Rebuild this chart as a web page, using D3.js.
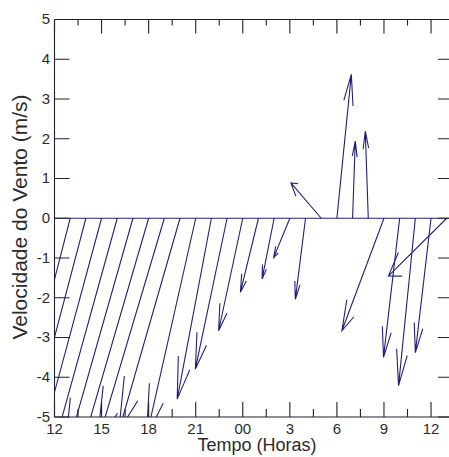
<!DOCTYPE html>
<html>
<head>
<meta charset="utf-8">
<style>
  body { margin: 0; background: #fff; }
  svg { font-family: "Liberation Sans", Arial, sans-serif; }
</style>
</head>
<body>
<div id="chart"></div>
<script src="https://d3js.org/d3.v7.min.js"></script>
<script>
// hour index from 12h (0) to 13h next day (25)
const hourIdx = [0, 1, 2, 3, 4, 5, 6, 7, 8, 9, 10, 11, 12,
                 13, 14, 15, 16, 17, 18, 19, 20, 21, 22, 23, 24, 25];
// wind components (u along time axis, v in m/s)
const uComp = [-4.5, -4.55, -4.68, -4.8, -4.92, -4.38, -5.17, -4.3, -3.9, -3.14,
               -2.18, -2.02, -1.54, -1.15, -0.77, -1.03, -0.65, -1.93, 0.92, 0.17,
               -0.19, -2.68, -1.03, -1.07, -1.0, -3.71];
const vComp = [-7.0, -7.0, -7.0, -7.0, -7.0, -6.08, -7.0, -5.7, -5.35, -5.5,
               -4.55, -3.79, -2.83, -1.86, -1.53, -0.99, -2.04, 0.89, 3.62, 1.94,
               2.19, -2.83, -3.5, -4.21, -3.38, -1.45];

const xMajor = [0, 3, 6, 9, 12, 15, 18, 21, 24];
const xMinor = [1.5, 4.5, 7.5, 10.5, 13.5, 16.5, 19.5, 22.5];
const xLabels = ["12", "15", "18", "21", "00", "3", "6", "9", "12"];
const yTicks = [-5, -4, -3, -2, -1, 0, 1, 2, 3, 4, 5];

const W = 449, H = 457;
const mLeft = 54.5, mRight = 453, mTop = 19.5, mBottom = 417;

const svg = d3.select("#chart").append("svg")
  .attr("width", W).attr("height", H);

const x = d3.scaleLinear().domain([0, 25.4]).range([mLeft, mRight]);
const y = d3.scaleLinear().domain([-5, 5]).range([mBottom, mTop]);

const defs = svg.append("defs");
defs.append("clipPath").attr("id", "plotclip")
  .append("rect")
  .attr("x", mLeft).attr("y", mTop)
  .attr("width", mRight - mLeft).attr("height", mBottom - mTop);
defs.append("clipPath").attr("id", "frameclip")
  .append("rect")
  .attr("x", mLeft - 3).attr("y", mTop - 3)
  .attr("width", mRight - mLeft + 6).attr("height", mBottom - mTop + 6);

const ink = "#1f1f78";
const frameInk = "#1f1f30";
const textInk = "#2b2b2b";

const plot = svg.append("g").attr("clip-path", "url(#plotclip)");

// zero line
plot.append("line")
  .attr("x1", x(0)).attr("x2", x(25.4))
  .attr("y1", y(0)).attr("y2", y(0))
  .attr("stroke", ink).attr("stroke-width", 1.1);

// feather arrows (matlab style head: 0.8 back, 0.08 sideways)
const arrowLine = d3.line().x(d => x(d[0])).y(d => y(d[1]));
hourIdx.forEach((h, i) => {
  const u = uComp[i], v = vComp[i];
  const tip = [h + u, v];
  const b1 = [h + 0.8 * u - 0.08 * v, 0.8 * v + 0.08 * u];
  const b2 = [h + 0.8 * u + 0.08 * v, 0.8 * v - 0.08 * u];
  plot.append("path")
    .attr("d", arrowLine([[h, 0], tip, b1, tip, b2]))
    .attr("fill", "none")
    .attr("stroke", ink)
    .attr("stroke-width", 1.1);
});

// frame and ticks, built from the scales as [x1, y1, x2, y2] segments
const segs = [
  [mRight, mTop, mLeft, mTop],
  [mLeft, mTop, mLeft, mBottom],
  [mLeft, mBottom, mRight, mBottom]
];
xMajor.forEach(t => {
  segs.push([x(t), mBottom, x(t), mBottom - 15]);
  segs.push([x(t), mTop, x(t), mTop + 14]);
});
xMinor.forEach(t => {
  segs.push([x(t), mBottom, x(t), mBottom - 8]);
  segs.push([x(t), mTop, x(t), mTop + 6]);
});
yTicks.forEach(t => {
  segs.push([mLeft, y(t), mLeft + 15, y(t)]);
  segs.push([mRight, y(t), mRight - 15, y(t)]);
});

const frame = svg.append("g").attr("clip-path", "url(#frameclip)");
frame.selectAll("path")
  .data(segs)
  .join("path")
  .attr("d", d => `M${d[0]},${d[1]}L${d[2]},${d[3]}`)
  .attr("fill", "none")
  .attr("stroke", frameInk)
  .attr("stroke-width", 1.1);

// tick labels
svg.append("g").selectAll("text")
  .data(xMajor)
  .join("text")
  .attr("x", d => x(d))
  .attr("y", 434)
  .attr("text-anchor", "middle")
  .attr("font-size", 15)
  .attr("fill", textInk)
  .text((d, i) => xLabels[i]);

svg.append("g").selectAll("text")
  .data(yTicks)
  .join("text")
  .attr("x", 50)
  .attr("y", d => y(d))
  .attr("dy", "0.33em")
  .attr("text-anchor", "end")
  .attr("font-size", 15)
  .attr("fill", textInk)
  .text(d => d);

// axis titles
svg.append("text")
  .attr("x", 257).attr("y", 451)
  .attr("text-anchor", "middle")
  .attr("font-size", 18)
  .attr("fill", textInk)
  .text("Tempo (Horas)");

svg.append("text")
  .attr("transform", "translate(27,217) rotate(-90)")
  .attr("text-anchor", "middle")
  .attr("font-size", 21)
  .attr("fill", textInk)
  .text("Velocidade do Vento (m/s)");
</script>
</body>
</html>
